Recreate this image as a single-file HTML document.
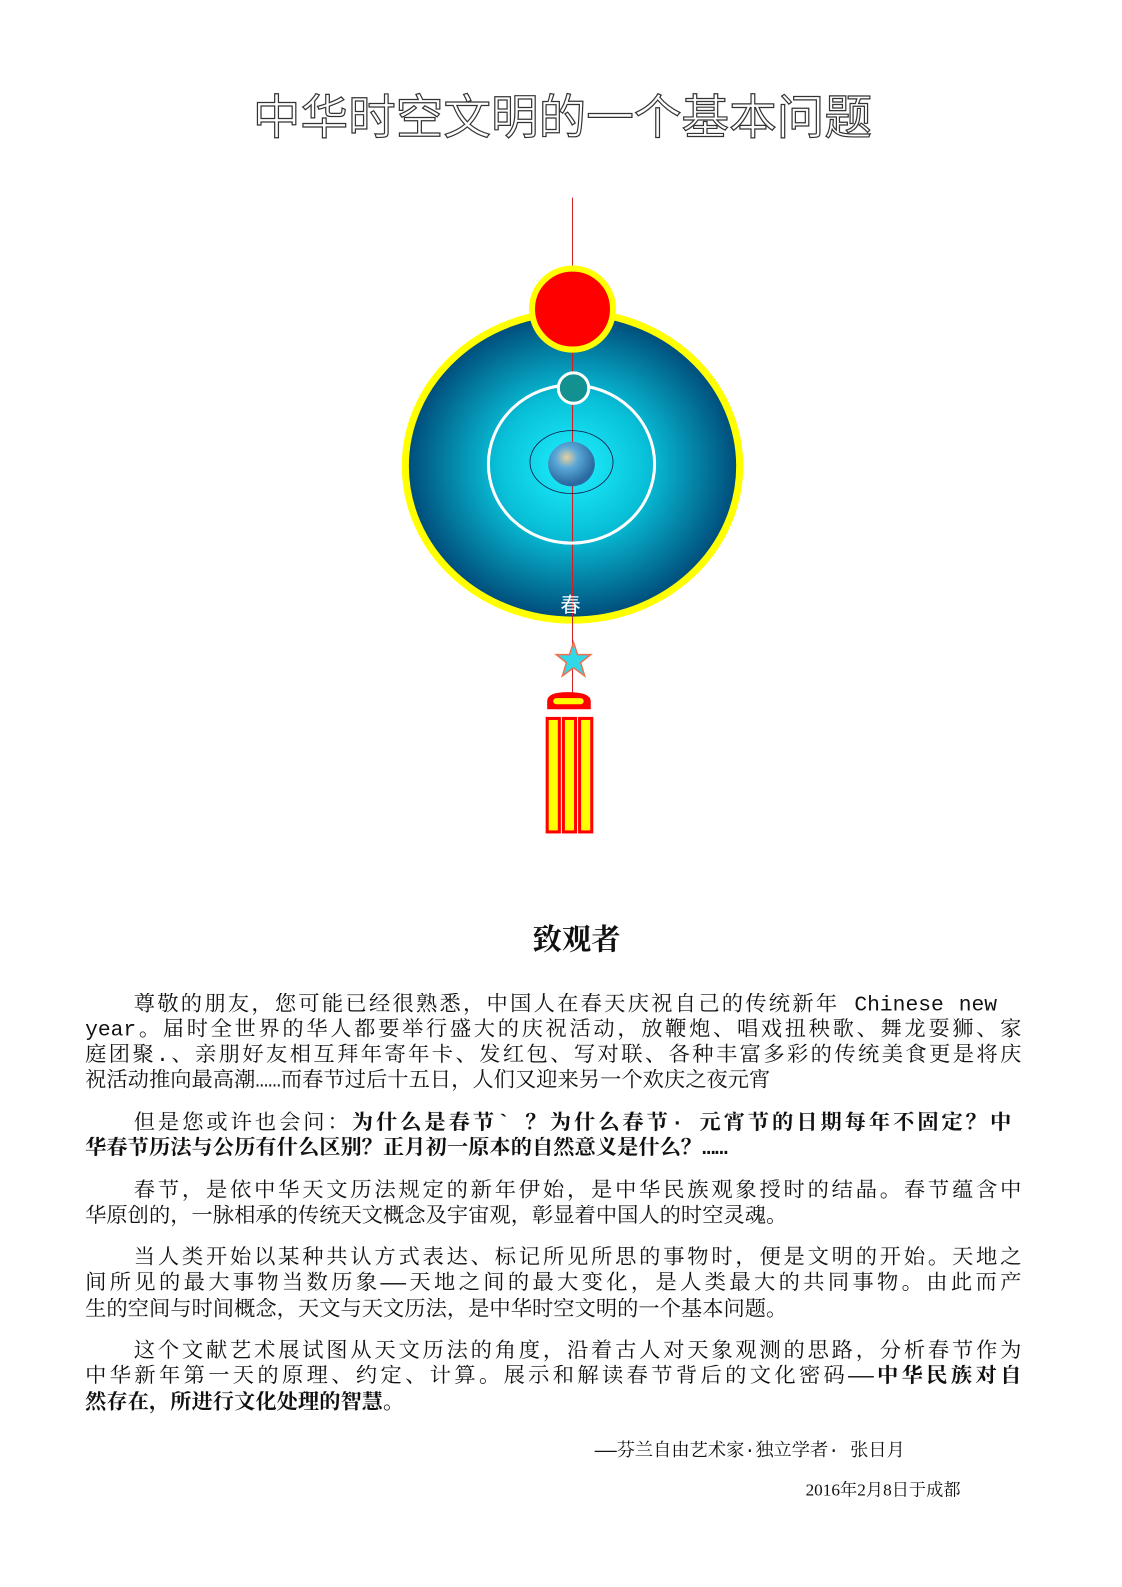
<!DOCTYPE html>
<html><head><meta charset="utf-8">
<style>
html,body{margin:0;padding:0;background:#fff;overflow:hidden;width:1122px;height:1587px}
#page{position:relative;width:1122px;height:1587px;overflow:hidden;background:#fff;font-family:"Liberation Mono","Noto Serif CJK SC","Noto Sans CJK SC",serif;color:#111;transform:scale(1.0133);transform-origin:0 0}
.t{position:absolute;left:0;width:1122px;text-align:center;white-space:nowrap}
.ln{position:absolute;left:84px;width:924px;height:26px;line-height:26px;font-size:21px;white-space:nowrap;overflow:hidden}
.j{text-align:justify;text-align-last:justify}
b{font-weight:bold}
</style></head><body>
<div id="page">
<div class="t" style="top:77px;left:-6px;font-size:47px;font-family:'Noto Sans CJK SC',sans-serif;color:#fff;-webkit-text-stroke:1.2px #333;">中华时空文明的一个基本问题</div>

<svg style="position:absolute;left:0;top:0;display:block" width="1122" height="860">
<defs>
<radialGradient id="g" cx="50%" cy="50%" r="50%">
<stop offset="0" stop-color="#1ff0ff"/><stop offset="0.45" stop-color="#08c0d8"/><stop offset="1" stop-color="#004a78"/>
</radialGradient>
<radialGradient id="e" cx="40%" cy="35%" r="60%">
<stop offset="0" stop-color="#e8d0a0"/><stop offset="0.4" stop-color="#5aa8d8"/><stop offset="1" stop-color="#2a6aa0"/>
</radialGradient>
</defs>
<ellipse cx="565" cy="460" rx="165" ry="152" fill="url(#g)" stroke="#ffff00" stroke-width="7"/>
<line x1="565" y1="195" x2="565" y2="690" stroke="#d02020" stroke-width="1"/>
<ellipse cx="564" cy="458" rx="82" ry="78" fill="none" stroke="#fff" stroke-width="3"/>
<ellipse cx="564" cy="456" rx="41" ry="31" fill="none" stroke="#114" stroke-width="0.8"/>
<ellipse cx="564" cy="458" rx="23" ry="22" fill="url(#e)"/>
<circle cx="566" cy="383" r="15" fill="#139090" stroke="#fff" stroke-width="3"/>
<circle cx="565" cy="305" r="40" fill="#ff0000" stroke="#ffff00" stroke-width="6"/>
<text x="563" y="604" font-size="20" fill="#fff" text-anchor="middle" font-family="Noto Sans CJK SC,sans-serif">春</text>
<polygon points="566,634 570,646 583,646 573,654 577,667 566,659 555,667 559,654 549,646 562,646" fill="#30d8e8" stroke="#f07050" stroke-width="1.5"/>
<path d="M540,700 L540,692 Q540,683 560,683 Q583,683 583,692 L583,700 Z" fill="#ff0000"/>
<rect x="546" y="689" width="30" height="6" rx="3" fill="#ffff00"/>
<rect x="540" y="709" width="12" height="112" fill="#ffff00" stroke="#ff0000" stroke-width="3"/>
<rect x="556" y="709" width="12" height="112" fill="#ffff00" stroke="#ff0000" stroke-width="3"/>
<rect x="572" y="709" width="12" height="112" fill="#ffff00" stroke="#ff0000" stroke-width="3"/>
</svg>

<div class="t" style="top:905px;left:8px;font-size:29px;font-weight:bold;font-family:'Noto Serif CJK SC',serif">致观者</div>

<div>
<div class="ln j" style="top:980px;left:132px;width:852px">尊敬的朋友，您可能已经很熟悉，中国人在春天庆祝自己的传统新年 Chinese new</div>
<div class="ln j" style="top:1005px">year。届时全世界的华人都要举行盛大的庆祝活动，放鞭炮、唱戏扭秧歌、舞龙耍狮、家</div>
<div class="ln j" style="top:1030px">庭团聚.、亲朋好友相互拜年寄年卡、发红包、写对联、各种丰富多彩的传统美食更是将庆</div>
<div class="ln" style="top:1055px">祝活动推向最高潮……而春节过后十五日，人们又迎来另一个欢庆之夜元宵</div>
<div class="ln j" style="top:1097px;left:132px;width:866px">但是您或许也会问：<b>为什么是春节` ？为什么春节· 元宵节的日期每年不固定？中</b></div>
<div class="ln" style="top:1122px"><b>华春节历法与公历有什么区别？正月初一原本的自然意义是什么？……</b></div>
<div class="ln j" style="top:1164px;left:132px;width:876px">春节，是依中华天文历法规定的新年伊始，是中华民族观象授时的结晶。春节蕴含中</div>
<div class="ln" style="top:1189px">华原创的，一脉相承的传统天文概念及宇宙观，彰显着中国人的时空灵魂。</div>
<div class="ln j" style="top:1230px;left:132px;width:876px">当人类开始以某种共认方式表达、标记所见所思的事物时，便是文明的开始。天地之</div>
<div class="ln j" style="top:1255px">间所见的最大事物当数历象——天地之间的最大变化，是人类最大的共同事物。由此而产</div>
<div class="ln" style="top:1281px">生的空间与时间概念，天文与天文历法，是中华时空文明的一个基本问题。</div>
<div class="ln j" style="top:1322px;left:132px;width:876px">这个文献艺术展试图从天文历法的角度，沿着古人对天象观测的思路，分析春节作为</div>
<div class="ln j" style="top:1347px">中华新年第一天的原理、约定、计算。展示和解读春节背后的文化密码——<b>中华民族对自</b></div>
<div class="ln" style="top:1373px"><b>然存在，所进行文化处理的智慧。</b></div>
</div>

<div style="position:absolute;left:587px;top:1417px;font-size:18px;white-space:nowrap">——芬兰自由艺术家·独立学者·  张日月</div>
<div style="position:absolute;left:795px;top:1456px;font-size:17px;white-space:nowrap;font-family:'Liberation Serif','Noto Serif CJK SC',serif">2016年2月8日于成都</div>
</div>
</body></html>
